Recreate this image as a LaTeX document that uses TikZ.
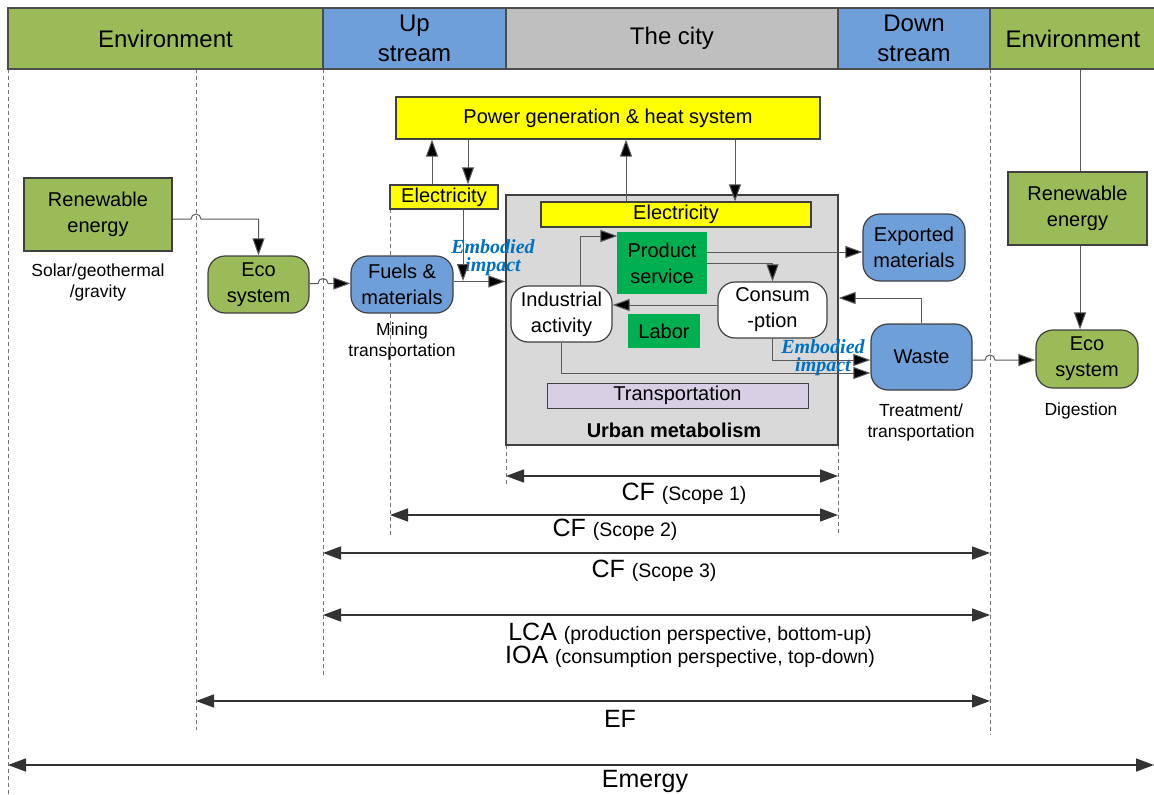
\documentclass[tikz,border=0pt]{standalone}
\usepackage{fontspec}
\setmainfont{Liberation Sans}
\newfontfamily\embf{Liberation Serif}
\usetikzlibrary{arrows.meta}
\definecolor{envgreen}{HTML}{9BBB59}
\definecolor{upblue}{HTML}{6F9FD9}
\definecolor{citygray}{HTML}{BFBFBF}
\definecolor{urbgray}{HTML}{D9D9D9}
\definecolor{pyellow}{HTML}{FFFF00}
\definecolor{dgreen}{HTML}{00B050}
\definecolor{lav}{HTML}{D8CFE4}
\definecolor{embblue}{HTML}{0070C0}
\newcommand\dbig{\fontsize{25}{25}\selectfont}
\newcommand\dsmall{\fontsize{19.5}{25}\selectfont}
\tikzset{
  hdr/.style={draw=black!70, line width=1.3pt, inner sep=0pt, align=center, minimum height=61pt, font=\fontsize{24}{30}\selectfont},
  box/.style={draw=black!75, line width=1.2pt, inner sep=0pt, align=center, font=\fontsize{20}{26}\selectfont},
  rbox/.style={box, rounded corners=17pt},
  lbl/.style={inner sep=0pt, align=center, font=\fontsize{17.5}{21}\selectfont},
  emb/.style={inner sep=0pt, align=center, text=embblue, font=\embf\bfseries\itshape\fontsize{20}{18}\selectfont},
  conn/.style={draw=black!65, line width=1pt},
  arr/.style={conn, -{Triangle[length=17pt,width=12pt,fill=black]}},
  vdash/.style={draw=black!55, line width=0.8pt, dash pattern=on 4pt off 3pt},
  dimarr/.style={draw=black!80, line width=1.5pt, {Triangle[length=18pt,width=13pt]}-{Triangle[length=18pt,width=13pt]}},
  dimlbl/.style={inner sep=0pt, align=center},
}
\begin{document}
\begin{tikzpicture}[x=1pt,y=-1pt]
\useasboundingbox (0,0) rectangle (1154,795);
% dashed guide lines
\draw[vdash] (8,69) -- (8,795);
\draw[vdash] (196,69) -- (196,730);
\draw[vdash] (323,69) -- (323,675);
\draw[vdash] (990,69) -- (990,735);
\draw[vdash] (390,209) -- (390,535);
\draw[vdash] (506,445) -- (506,487);
\draw[vdash] (838,445) -- (838,535);
% header
\node[hdr, fill=envgreen, minimum width=315pt] (envL) at (165.5,38.5) {Environment};
\node[hdr, fill=upblue, minimum width=183pt] (up) at (414.5,38.5) {Up\\stream};
\node[hdr, fill=citygray, minimum width=332pt] (city) at (672,38.5) {The city};
\node[hdr, fill=upblue, minimum width=152pt] (down) at (914,38.5) {Down\\stream};
\node[hdr, fill=envgreen, minimum width=166pt] (envR) at (1073,38.5) {Environment};
% nodes
\node[box, fill=envgreen, minimum width=148pt, minimum height=73pt] (renL) at (98,214.5) {Renewable\\energy};
\node[lbl] (solar) at (98,282) {Solar/geothermal\\/gravity};
\node[rbox, fill=envgreen, minimum width=101pt, minimum height=57pt] (ecoL) at (258.5,284.5) {Eco\\system};
\node[rbox, fill=upblue, minimum width=102pt, minimum height=57pt] (fuels) at (402,284.5) {Fuels \&\\materials};
\node[lbl] (mining) at (402,341) {Mining\\transportation};
\node[box, fill=pyellow, minimum width=424pt, minimum height=42pt] (power) at (608,118) {Power generation \& heat system};
\node[box, fill=pyellow, minimum width=108pt, minimum height=24pt] (elecL) at (444,197) {Electricity};
\node[box, fill=urbgray, minimum width=332pt, minimum height=250pt] (urban) at (672,320) {};
\node[inner sep=0pt, font=\bfseries\fontsize{20}{24}\selectfont] (umlbl) at (674,430) {Urban metabolism};
\node[box, fill=pyellow, minimum width=270pt, minimum height=25pt] (elecI) at (676,214.5) {Electricity};
\node[box, draw=dgreen, fill=dgreen, minimum width=88pt, minimum height=60pt] (prod) at (662,263) {Product\\service};
\node[rbox, fill=white, minimum width=101pt, minimum height=56pt] (ind) at (561.5,314) {Industrial\\activity};
\node[rbox, fill=white, minimum width=109pt, minimum height=56pt] (cons) at (772.5,310) {Consum\\-ption};
\node[box, draw=dgreen, fill=dgreen, minimum width=70pt, minimum height=32pt] (labor) at (664,331) {Labor};
\node[box, fill=lav, line width=0.9pt, minimum width=261pt, minimum height=25pt] (trans) at (677.5,395.5) {Transportation};
\node[rbox, fill=upblue, minimum width=102pt, minimum height=67pt] (exp) at (914,247.5) {Exported\\materials};
\node[rbox, fill=upblue, minimum width=101pt, minimum height=66pt] (waste) at (921.5,357) {Waste};
\node[lbl] (treat) at (921,422) {Treatment/\\transportation};
\node[box, fill=envgreen, minimum width=139pt, minimum height=73pt] (renR) at (1077.5,208.5) {Renewable\\energy};
\node[rbox, fill=envgreen, minimum width=102pt, minimum height=58pt] (ecoR) at (1087,359) {Eco\\system};
\node[lbl] (digest) at (1081,411) {Digestion};
\node[emb] (emb1) at (493,258) {Embodied\\impact};
\node[emb] (emb2) at (823,358) {Embodied\\impact};
% helper coordinates
\coordinate (xA) at (432,0);
\coordinate (xB) at (468,0);
\coordinate (xC) at (626,0);
\coordinate (xD) at (735,0);
\coordinate (xR) at (1080,0);
\coordinate (j1) at (463,281);
% connectors
\draw[arr] ([yshift=-4.5pt]renL.east) -- (191,219) arc[start angle=180,end angle=0,radius=5pt] -- (258.5,219) -- (ecoL.north);
\draw[arr] ([yshift=1pt]ecoL.east) -- (318,283.5) arc[start angle=180,end angle=0,radius=5pt] -- ([yshift=1pt]fuels.west);
\draw[arr] ([yshift=3pt]fuels.east) -- ([yshift=3pt]fuels.east -| urban.west);
\draw[arr] (elecL.south -| j1) -- (j1);
\draw[arr] (elecL.north -| xA) -- (power.south -| xA);
\draw[arr] (power.south -| xB) -- (elecL.north -| xB);
\draw[arr] (elecI.north -| xC) -- (power.south -| xC);
\draw[arr] (power.south -| xD) -- (elecI.north -| xD);
\draw[arr] ([xshift=18.5pt]ind.north) |- ([yshift=27pt]prod.west);
\draw[arr] (prod.east) -| (cons.north);
\draw[arr] ([yshift=11pt]prod.east) -- ([yshift=11pt]prod.east -| exp.west);
\draw[arr] ([yshift=5pt]cons.west) -- ([yshift=5pt]cons.west -| ind.east);
\draw[arr] (cons.south) |- ([yshift=-3pt]waste.west);
\draw[arr] (ind.south) |- ([yshift=-16pt]waste.west);
\draw[arr] (waste.north) |- ([yshift=22pt]urban.east);
\draw[arr] ([yshift=-3pt]waste.east) -- (985,360) arc[start angle=180,end angle=0,radius=5pt] -- ([yshift=-1pt]ecoR.west);
\draw[conn] (envR.south -| xR) -- (renR.north -| xR);
\draw[arr] (renR.south -| xR) -- (ecoR.north -| xR);
% dimension arrows
\coordinate (s1a) at (506,476); \coordinate (s1b) at (838,476);
\coordinate (s2a) at (390,515); \coordinate (s2b) at (838,515);
\coordinate (s3a) at (323,553); \coordinate (s3b) at (990,553);
\coordinate (la) at (323,615); \coordinate (lb) at (990,615);
\coordinate (ea) at (196,701); \coordinate (eb) at (990,701);
\coordinate (ma) at (8,765); \coordinate (mb) at (1154,765);
\draw[dimarr] (s1a) -- (s1b);
\draw[dimarr] (s2a) -- (s2b);
\draw[dimarr] (s3a) -- (s3b);
\draw[dimarr] (la) -- (lb);
\draw[dimarr] (ea) -- (eb);
\draw[dimarr] (ma) -- (mb);
\node[dimlbl] (cf1) at (684,494) {\dbig CF \dsmall(Scope 1)};
\node[dimlbl] (cf2) at (615,530) {\dbig CF \dsmall(Scope 2)};
\node[dimlbl] (cf3) at (654,571) {\dbig CF \dsmall(Scope 3)};
\node[dimlbl] (lca) at (690,645.5) {\dbig LCA \dsmall(production perspective, bottom-up)\\\dbig IOA \dsmall(consumption perspective, top-down)};
\node[dimlbl] (ef) at (620,719) {\dbig EF};
\node[dimlbl] (emergy) at (645,781) {\dbig Emergy};
\end{tikzpicture}
\end{document}
